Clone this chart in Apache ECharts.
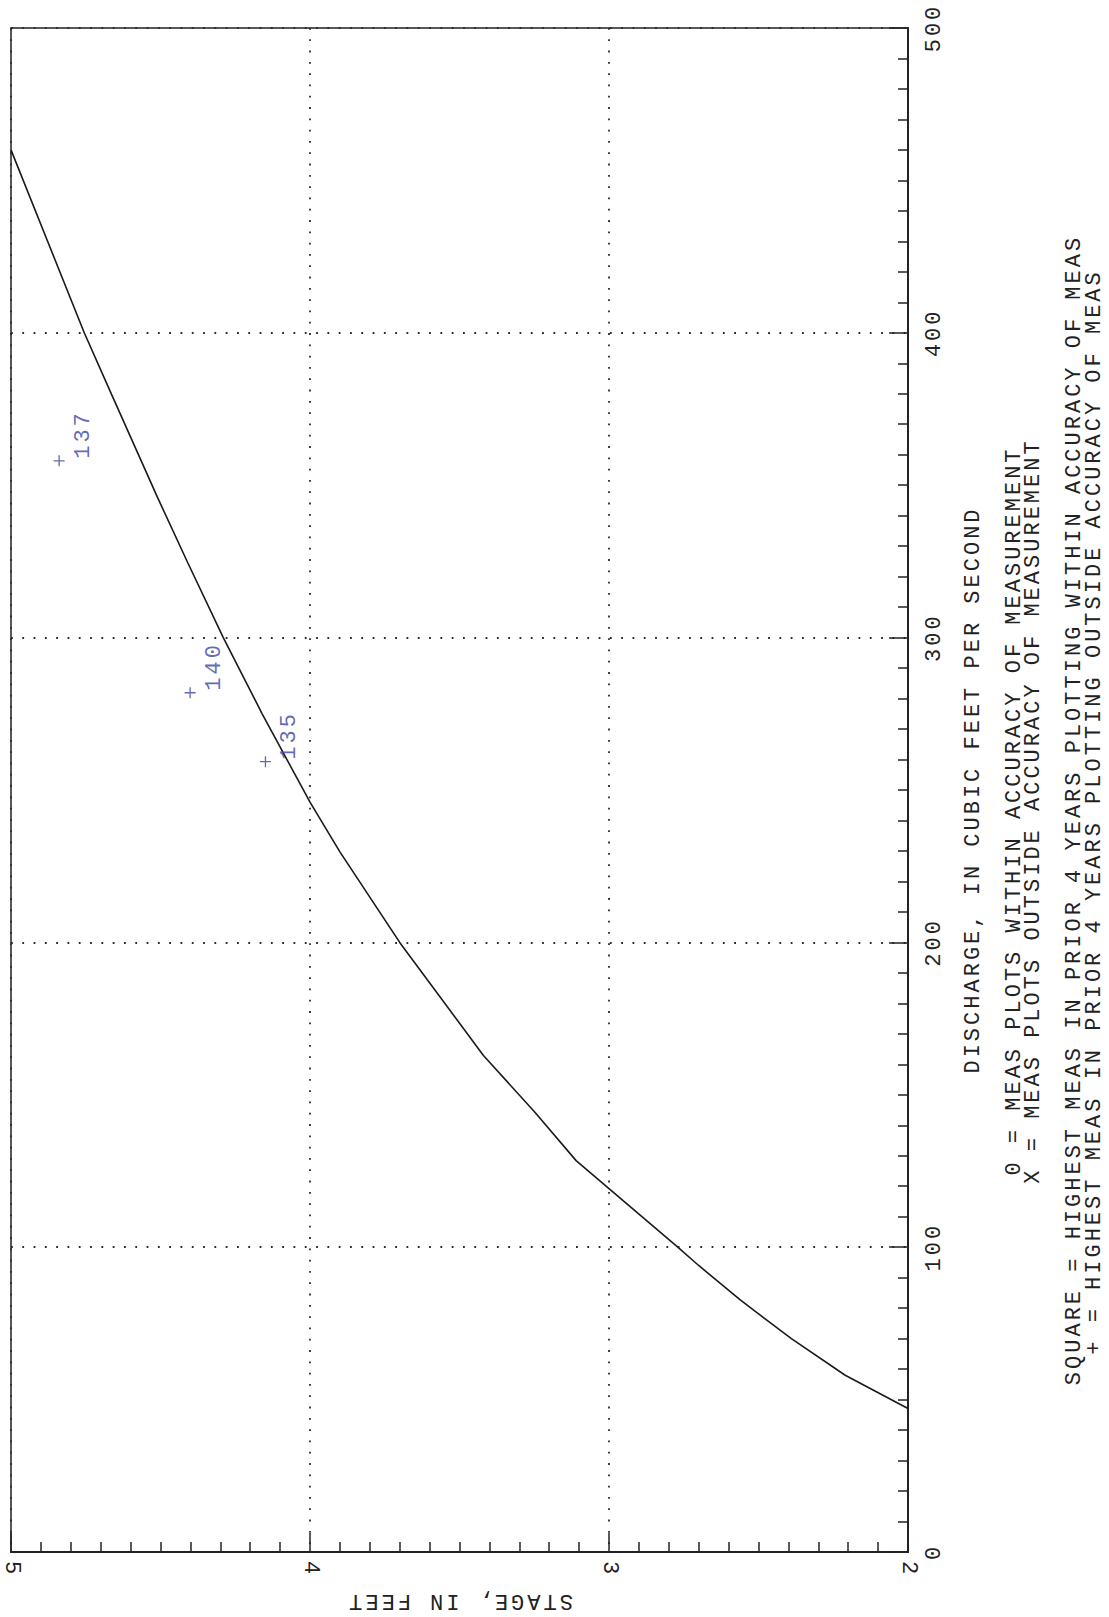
<!DOCTYPE html>
<html>
<head>
<meta charset="utf-8">
<script src="https://cdn.jsdelivr.net/npm/echarts@6/dist/echarts.min.js"></script>
<style>
  html, body { margin: 0; padding: 0; background: #ffffff; }
  #chart { width: 1109px; height: 1617px; }
  /* plotter-style wide character cells */
  #chart text { letter-spacing: 3px; }
</style>
</head>
<body>
<div id="chart"></div>
<script>
// Rating curve: gage height (ft) against discharge (cfs)
const ratingStage     = [2.00, 2.21, 2.39, 2.56, 2.70, 2.77, 3.00, 3.11, 3.25, 3.42, 3.70, 3.90, 4.00, 4.16, 4.29, 4.41, 4.51, 4.66, 4.755, 5.00];
const ratingDischarge = [47.1, 58.0, 70.0, 82.6, 94.0, 100.0, 119.2, 128.4, 144.5, 162.9, 200.0, 229.7, 246.0, 275.0, 300.0, 324.8, 346.0, 379.0, 400.0, 460.0];

// Highest measurements in the prior 4 years (plotted as +), with measurement numbers
const measStage     = [4.839, 4.401, 4.149];
const measDischarge = [358.0, 281.9, 259.3];
const measNumber    = ['137', '140', '135'];

// Axis ranges and tick steps
const stageRange     = [2, 5];
const stageStep      = 1;
const dischargeRange = [0, 500];
const dischargeStep  = 100;

const stageTitle     = 'STAGE, IN FEET';
const dischargeTitle = 'DISCHARGE, IN CUBIC FEET PER SECOND';
const legendLines = [
  '0 = MEAS PLOTS WITHIN ACCURACY OF MEASUREMENT',
  'X = MEAS PLOTS OUTSIDE ACCURACY OF MEASUREMENT',
  'SQUARE = HIGHEST MEAS IN PRIOR 4 YEARS PLOTTING WITHIN ACCURACY OF MEAS',
  '+ = HIGHEST MEAS IN PRIOR 4 YEARS PLOTTING OUTSIDE ACCURACY OF MEAS'
];

const FONT = '"Liberation Mono", "DejaVu Sans Mono", monospace';
const INK = '#222222';
const MARK_BLUE = '#3a44a4';

const ratingData = ratingStage.map((s, i) => [s, ratingDischarge[i]]);
const measData = measStage.map((s, i) => [s, measDischarge[i], measNumber[i]]);

// Legend text block, written sideways beside the discharge axis
const legendX = [1014.5, 1033.5, 1074.5, 1094.5];
const legendY = [811, 811, 810, 812];
const legendGraphics = legendLines.map((t, i) => ({
  type: 'text',
  x: legendX[i],
  y: legendY[i],
  rotation: Math.PI / 2,
  silent: true,
  style: {
    text: t,
    fontFamily: FONT,
    fontSize: 22,
    fill: INK,
    align: 'center',
    verticalAlign: 'middle'
  }
}));

const chart = echarts.init(document.getElementById('chart'), null, { renderer: 'svg' });

const dotted = { color: '#2a2a2a', width: 1.8, type: [1.8, 9.5] };

chart.setOption({
  backgroundColor: '#ffffff',
  animation: false,
  grid: {
    left: 11, right: 201, top: 28, bottom: 65,
    show: true, borderColor: INK, borderWidth: 1.5, backgroundColor: 'transparent'
  },
  xAxis: {
    type: 'value',
    min: stageRange[0], max: stageRange[1], interval: stageStep,
    inverse: true,
    position: 'bottom',
    name: stageTitle,
    nameLocation: 'middle',
    nameRotate: 180,
    nameGap: 37,
    nameTextStyle: { fontFamily: FONT, fontSize: 22, color: INK },
    axisLine: { show: true, lineStyle: { color: INK, width: 2 } },
    axisTick: { show: true, inside: true, length: 19, lineStyle: { color: INK, width: 1.5 } },
    minorTick: { show: true, splitNumber: 10, length: 10, lineStyle: { color: INK, width: 1.5 } },
    axisLabel: {
      show: true, rotate: -90, margin: 9,
      fontFamily: FONT, fontSize: 22, color: INK,
      showMinLabel: true, showMaxLabel: true
    },
    splitLine: { show: true, lineStyle: dotted },
    minorSplitLine: { show: false }
  },
  yAxis: {
    type: 'value',
    min: dischargeRange[0], max: dischargeRange[1], interval: dischargeStep,
    position: 'right',
    name: dischargeTitle,
    nameLocation: 'middle',
    nameRotate: 90,
    nameGap: 54,
    nameTextStyle: { fontFamily: FONT, fontSize: 22, color: INK },
    axisLine: { show: true, lineStyle: { color: INK, width: 2 } },
    axisTick: { show: true, inside: true, length: 19, lineStyle: { color: INK, width: 1.5 } },
    minorTick: { show: true, splitNumber: 10, length: 10, lineStyle: { color: INK, width: 1.5 } },
    axisLabel: {
      show: true, rotate: 90, margin: 15,
      fontFamily: FONT, fontSize: 22, color: INK,
      showMinLabel: true, showMaxLabel: true
    },
    splitLine: { show: true, lineStyle: dotted },
    minorSplitLine: { show: false }
  },
  graphic: legendGraphics,
  series: [
    {
      name: 'Rating',
      type: 'line',
      data: ratingData,
      showSymbol: false,
      symbol: 'none',
      smooth: false,
      lineStyle: { color: '#1a1a1a', width: 1.6 },
      z: 3
    },
    {
      name: 'Highest measurements',
      type: 'scatter',
      data: measData,
      symbol: 'path://M4.4,0 H5.6 V4.4 H10 V5.6 H5.6 V10 H4.4 V5.6 H0 V4.4 H4.4 Z',
      symbolSize: 11,
      itemStyle: { color: MARK_BLUE },
      label: {
        show: true,
        formatter: p => p.value[2],
        position: [29.5, 3.5],
        rotate: 90,
        align: 'left',
        verticalAlign: 'middle',
        fontFamily: FONT,
        fontSize: 22,
        color: MARK_BLUE
      },
      z: 4
    }
  ]
});
</script>
</body>
</html>
